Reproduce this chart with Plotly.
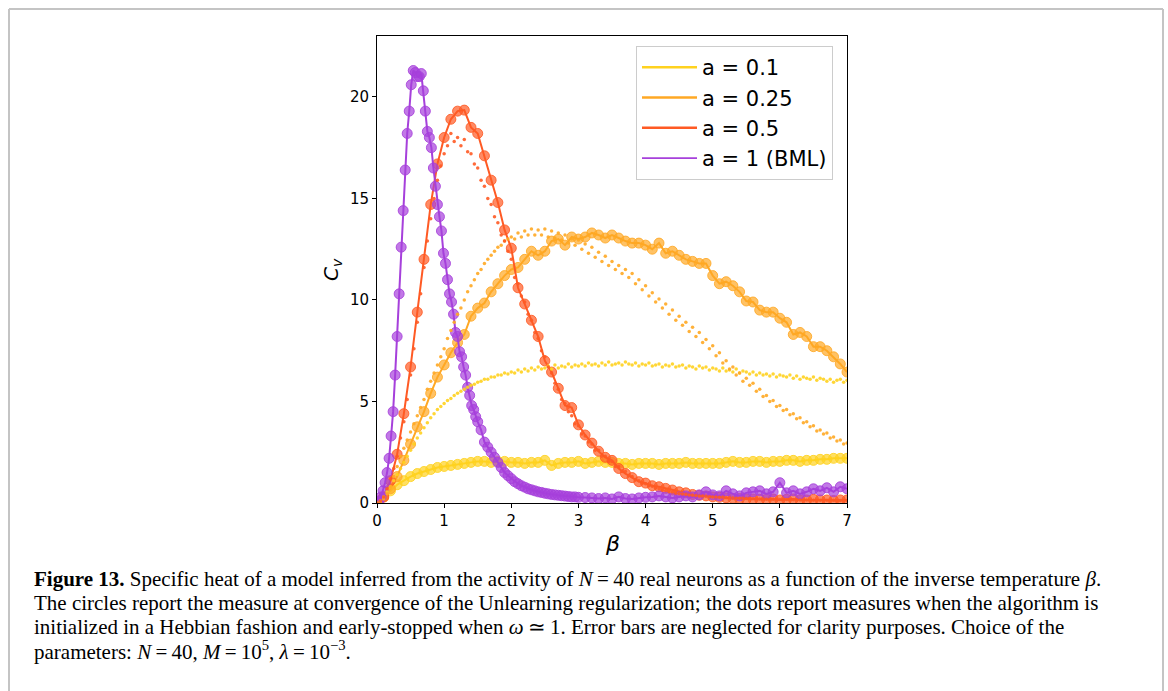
import numpy as np
import plotly.graph_objects as go

# ---- data -------------------------------------------------------------
labels = ["a = 0.1", "a = 0.25", "a = 0.5", "a = 1 (BML)"]
colors = ["#FFD21F", "#FFA824", "#FF5A24", "#A640DB"]

# converged Unlearning runs (circles), beta step 0.1 from 0 to 7
cv_a01 = [0.0, 0.3, 0.6, 0.9, 1.1, 1.3, 1.45, 1.55, 1.65, 1.75,
          1.8, 1.85, 1.9, 1.95, 2.0, 2.05, 2.05, 2.0, 2.05, 2.05,
          2.0, 2.0, 1.95, 2.0, 2.0, 2.1, 1.85, 1.95, 2.0, 2.0,
          2.05, 1.95, 2.0, 2.05, 2.0, 2.0, 1.95, 1.95, 1.9, 1.95,
          1.95, 1.95, 1.9, 1.95, 1.95, 1.95, 2.0, 1.95, 1.95, 1.95,
          1.95, 1.95, 2.0, 2.05, 2.0, 2.0, 2.05, 2.05, 2.0, 2.05,
          2.05, 2.1, 2.1, 2.05, 2.1, 2.1, 2.15, 2.15, 2.2, 2.2, 2.2]
cv_a025 = [0.0, 0.3, 0.7, 1.3, 2.1, 2.9, 3.75, 4.5, 5.4, 6.2,
           6.8, 7.4, 7.9, 8.3, 9.2, 9.6, 9.85, 10.4, 10.8, 11.2,
           11.5, 11.6, 12.0, 12.4, 12.2, 12.4, 12.9, 13.0, 12.7, 13.1,
           13.0, 13.1, 13.3, 13.2, 13.05, 13.2, 13.05, 12.9, 12.8, 12.8,
           12.7, 12.5, 12.8, 12.3, 12.4, 12.2, 12.0, 11.9, 11.8, 11.8,
           11.2, 10.8, 10.9, 10.7, 10.4, 9.95, 9.9, 9.5, 9.4, 9.4,
           9.1, 8.9, 8.3, 8.4, 8.2, 7.7, 7.7, 7.5, 7.2, 6.85, 6.45]
cv_a05 = [0.0, 0.3, 1.1, 2.4, 4.4, 6.7, 9.4, 12.0, 14.7, 16.7,
          18.0, 18.9, 19.3, 19.35, 18.5, 18.2, 17.1, 15.9, 14.8, 13.45,
          12.55, 10.6, 9.8, 9.0, 8.2, 7.0, 6.45, 5.65, 4.8, 4.7,
          3.85, 3.35, 2.95, 2.55, 2.25, 2.1, 1.7, 1.45, 1.25, 1.05,
          0.98, 0.85, 0.8, 0.72, 0.64, 0.55, 0.5, 0.42, 0.38, 0.35,
          0.3, 0.28, 0.25, 0.22, 0.22, 0.2, 0.2, 0.18, 0.18, 0.2,
          0.15, 0.18, 0.2, 0.15, 0.15, 0.18, 0.15, 0.15, 0.12, 0.15, 0.15]

# BML (a = 1): finer beta sampling around the peak
beta_bml = np.round(np.concatenate([
    np.linspace(0.0, 1.5, 51),
    np.linspace(1.55, 3.0, 30),
    np.linspace(3.1, 7.0, 40),
]), 3)
cv_bml = [0.0, 0.1, 0.3, 0.6, 1.0, 1.5, 2.2, 3.3, 4.5, 6.3,
          8.2, 10.3, 12.6, 14.4, 16.4, 18.2, 19.3, 20.6, 21.3,
          21.2, 21.0, 21.0, 21.15, 20.3, 19.3, 18.3, 18.0, 17.5, 16.5,
          15.6, 14.7, 14.1, 13.4, 12.3, 11.8, 11.0, 10.3, 9.9, 9.3,
          8.4, 8.2, 7.45, 7.2, 6.7, 6.3, 5.7, 5.3, 4.8, 4.6, 4.25, 4.0,
          3.6, 3.0, 2.75, 2.5, 2.25, 2.0, 1.75, 1.5, 1.35, 1.2,
          1.05, 0.95, 0.85, 0.78, 0.7, 0.65, 0.6, 0.55, 0.52, 0.48,
          0.45, 0.42, 0.4, 0.38, 0.36, 0.34, 0.32, 0.3, 0.3, 0.28,
          0.27, 0.25, 0.22, 0.25, 0.2, 0.3, 0.22, 0.2, 0.25, 0.28,
          0.3, 0.35, 0.3, 0.25, 0.3, 0.35, 0.3, 0.4, 0.55, 0.4,
          0.35, 0.6, 0.45, 0.35, 0.5, 0.55, 0.6, 0.45, 0.55, 1.0,
          0.5, 0.6, 0.45, 0.55, 0.7, 0.6, 0.75, 0.55, 0.8, 0.7]

# Hebbian-initialised, early-stopped runs (dots), beta step 0.05 from 0 to 7
dots_a01 = [0.0, 0.1, 0.3, 0.55, 0.8, 1.1, 1.4, 1.7, 2.0, 2.3,
            2.6, 2.9, 3.2, 3.45, 3.7, 3.95, 4.2, 4.4, 4.6, 4.75,
            4.9, 5.05, 5.15, 5.3, 5.4, 5.5, 5.6, 5.7, 5.8, 5.85,
            5.95, 6.0, 6.1, 6.1, 6.2, 6.2, 6.3, 6.3, 6.4, 6.35, 6.45,
            6.4, 6.55, 6.45, 6.6, 6.5, 6.65, 6.55, 6.7, 6.6, 6.65,
            6.75, 6.6, 6.8, 6.65, 6.75, 6.7, 6.85, 6.7, 6.8, 6.75,
            6.85, 6.75, 6.9, 6.8, 6.85, 6.75, 6.9, 6.8, 6.95, 6.8,
            6.85, 6.9, 6.8, 6.95, 6.85, 6.8, 6.9, 6.75, 6.85, 6.8,
            6.9, 6.75, 6.8, 6.85, 6.7, 6.8, 6.75, 6.85, 6.7, 6.75,
            6.8, 6.65, 6.75, 6.7, 6.6, 6.75, 6.65, 6.7, 6.55, 6.65,
            6.6, 6.5, 6.65, 6.5, 6.55, 6.45, 6.6, 6.4, 6.5, 6.45,
            6.35, 6.45, 6.3, 6.4, 6.3, 6.35, 6.25, 6.35, 6.2, 6.3,
            6.25, 6.2, 6.3, 6.15, 6.25, 6.1, 6.2, 6.15, 6.1, 6.2,
            6.05, 6.15, 6.1, 6.0, 6.1, 5.95, 6.05, 6.1, 5.95, 6.05]
dots_a025 = [0.0, 0.05, 0.2, 0.45, 0.8, 1.3, 1.8, 2.3, 2.7, 3.1,
             3.5, 3.9, 4.3, 4.7, 5.1, 5.6, 6.0, 6.4, 6.8, 7.2,
             7.6, 8.1, 8.5, 8.9, 9.3, 9.6, 10.0, 10.4, 10.7, 11.0,
             11.3, 11.5, 11.8, 12.0, 12.2, 12.4, 12.6, 12.7, 12.9, 13.0, 13.1,
             13.0, 13.3, 13.1, 13.4, 13.2, 13.5, 13.2, 13.45, 13.2, 13.5,
             13.1, 13.4, 13.05, 13.3, 12.95, 13.2, 12.8, 13.0, 12.7, 12.95,
             12.5, 12.75, 12.3, 12.6, 12.1, 12.35, 11.9, 12.15, 11.7, 11.9,
             11.5, 11.7, 11.3, 11.5, 11.1, 11.3, 10.8, 11.0, 10.5, 10.7,
             10.2, 10.35, 9.9, 10.05, 9.6, 9.8, 9.3, 9.5, 9.0, 9.2,
             8.75, 8.9, 8.45, 8.65, 8.2, 8.4, 7.9, 8.05, 7.6, 7.75,
             7.25, 7.4, 6.9, 7.0, 6.6, 6.7, 6.3, 6.4, 6.0, 6.15,
             5.8, 5.9, 5.5, 5.6, 5.25, 5.3, 5.0, 5.05, 4.75, 4.8,
             4.55, 4.6, 4.35, 4.4, 4.15, 4.2, 3.95, 4.0, 3.75, 3.8,
             3.55, 3.6, 3.4, 3.45, 3.2, 3.25, 3.05, 3.1, 2.9, 2.95]
dots_a05 = [0.0, 0.1, 0.3, 0.7, 1.2, 1.7, 2.3, 3.2, 4.0, 5.1,
            6.3, 7.6, 8.9, 10.3, 11.6, 12.9, 14.0, 15.0, 15.9, 16.6,
            17.2, 17.6, 18.2, 17.8, 18.0, 17.6, 17.9, 17.3, 17.2, 16.7,
            16.5, 15.9, 15.6, 15.0, 14.7, 14.1, 13.8, 13.2, 12.9, 12.4,
            12.0, 11.1, 10.8, 10.2, 9.9, 9.3, 9.0, 8.4, 8.1, 7.5,
            7.2, 6.7, 6.4, 5.9, 5.6, 5.1, 4.9, 4.5, 4.3, 3.9,
            3.8, 3.4, 3.3, 3.0, 2.9, 2.6, 2.6, 2.3, 2.3, 2.05,
            2.05, 1.8, 1.8, 1.55, 1.55, 1.35, 1.3, 1.15, 1.1, 0.98,
            0.95, 0.85, 0.82, 0.74, 0.7, 0.63, 0.62, 0.55, 0.54, 0.48, 0.47,
            0.44, 0.42, 0.4, 0.38, 0.37, 0.35, 0.34, 0.33, 0.31, 0.3,
            0.29, 0.28, 0.28, 0.26, 0.26, 0.25, 0.24, 0.24, 0.23, 0.22,
            0.22, 0.21, 0.21, 0.2, 0.2, 0.19, 0.19, 0.18, 0.18, 0.17,
            0.17, 0.17, 0.16, 0.16, 0.16, 0.15, 0.15, 0.15, 0.14, 0.14,
            0.14, 0.14, 0.13, 0.13, 0.13, 0.13, 0.12, 0.12, 0.12, 0.12]

x_ticks = [0, 1, 2, 3, 4, 5, 6, 7]
y_ticks = [0, 5, 10, 15, 20]

caption_lines = [
    "<b>Figure 13.</b> Specific heat of a model inferred from the activity of "
    "<i>N</i>\u2009=\u200940 real neurons as a function of the inverse temperature <i>β</i>.",
    "The circles report the measure at convergence of the Unlearning regularization; "
    "the dots report measures when the algorithm is",
    "initialized in a Hebbian fashion and early-stopped when <i>ω</i>\u2009≃\u20091. "
    "Error bars are neglected for clarity purposes. Choice of the",
    "parameters: <i>N</i>\u2009=\u200940, <i>M</i>\u2009=\u200910<sup>5</sup>, "
    "<i>λ</i>\u2009=\u200910<sup>−3</sup>.",
]

# ---- geometry helpers (page pixels -> paper fractions) ----------------
W, H = 1168, 691
PL, PR, PT, PB = 377, 847, 36, 503


def px(x):
    return (x - PL) / (PR - PL)


def py(y):
    return (PB - y) / (PB - PT)


def rgba(hex_color, a):
    h = hex_color.lstrip("#")
    r, g, b = int(h[0:2], 16), int(h[2:4], 16), int(h[4:6], 16)
    return f"rgba({r},{g},{b},{a})"


def grid(values, step):
    return np.round(np.arange(len(values)) * step, 3)


fig = go.Figure()

circle_series = [
    (grid(cv_a01, 0.1), cv_a01),
    (grid(cv_a025, 0.1), cv_a025),
    (grid(cv_a05, 0.1), cv_a05),
    (beta_bml, cv_bml),
]
dot_series = [dots_a01, dots_a025, dots_a05]

for (bx, by), col in zip(circle_series, colors):
    fig.add_trace(go.Scatter(
        x=bx, y=by, mode="lines+markers", showlegend=False,
        line=dict(color=col, width=2),
        marker=dict(size=10, color=rgba(col, 0.7),
                    line=dict(color=rgba(col, 0.85), width=1)),
    ))

for vals, col in zip(dot_series, colors[:3]):
    fig.add_trace(go.Scatter(
        x=grid(vals, 0.05), y=vals, mode="markers", showlegend=False,
        marker=dict(size=3.5, color=col, opacity=0.9),
    ))

# legend entries
for i, (lab, col) in enumerate(zip(labels, colors)):
    fig.add_trace(go.Scatter(
        x=[None], y=[None], mode="lines", name=lab, legendgroup=str(i),
        line=dict(color=col, width=2.5 if i < 3 else 1.8),
    ))

axis_common = dict(
    showline=True, linecolor="black", linewidth=1, mirror=True,
    ticks="outside", ticklen=4, tickwidth=1, tickcolor="black",
    showgrid=False, zeroline=False,
    tickfont=dict(family="DejaVu Sans", size=15, color="black"),
)
fig.update_xaxes(range=[0, 7], tickvals=x_ticks, **axis_common)
fig.update_yaxes(range=[0, 23], tickvals=y_ticks, **axis_common)

annotations = [
    dict(text="<i>β</i>", x=px(612), y=py(543), xref="paper", yref="paper",
         showarrow=False, font=dict(family="DejaVu Sans", size=22, color="black"),
         xanchor="center", yanchor="middle"),
    dict(text="<i>C<sub>v</sub></i>", x=px(332), y=py(270), xref="paper", yref="paper",
         showarrow=False, textangle=-90,
         font=dict(family="DejaVu Sans", size=20, color="black"),
         xanchor="center", yanchor="middle"),
]
for line, yc in zip(caption_lines, [579, 603, 627, 650]):
    annotations.append(dict(
        text=line, x=px(32), y=py(yc), xref="paper", yref="paper",
        showarrow=False, xanchor="left", yanchor="middle", align="left",
        font=dict(family="Liberation Serif", size=21, color="black"),
    ))

frame = dict(color="#c4c4c4", width=2)
shapes = [
    dict(type="line", xref="paper", yref="paper",
         x0=px(9), x1=px(9), y0=py(9), y1=py(720), line=frame),
    dict(type="line", xref="paper", yref="paper",
         x0=px(9), x1=px(1163), y0=py(9), y1=py(9), line=frame),
    dict(type="line", xref="paper", yref="paper",
         x0=px(1163), x1=px(1163), y0=py(9), y1=py(720), line=frame),
]

fig.update_layout(
    width=W, height=H,
    margin=dict(l=PL, r=W - PR, t=PT, b=H - PB, autoexpand=False),
    paper_bgcolor="white", plot_bgcolor="white",
    showlegend=True,
    legend=dict(
        x=px(636), y=py(46), xanchor="left", yanchor="top",
        bgcolor="white", bordercolor="#cccccc", borderwidth=1,
        font=dict(family="DejaVu Sans", size=21, color="black"),
        traceorder="grouped", tracegroupgap=0, itemwidth=55,
    ),
    annotations=annotations,
    shapes=shapes,
)

fig.write_html("out.html")
